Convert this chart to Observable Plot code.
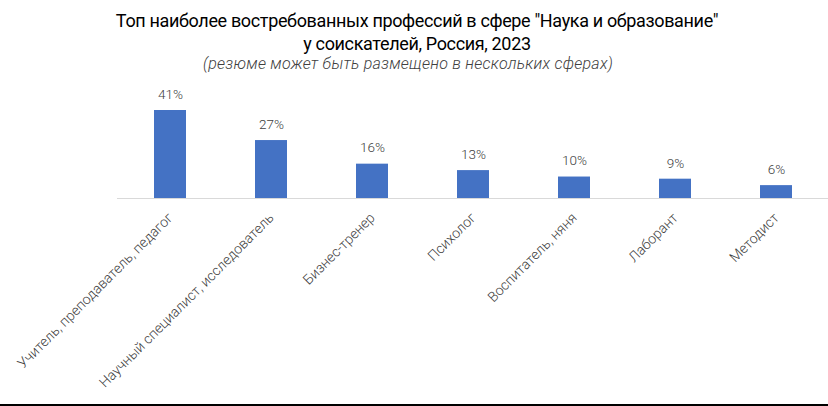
<!DOCTYPE html>
<html>
<head>
<meta charset="utf-8">
<script src="https://cdn.jsdelivr.net/npm/d3@7"></script>
<script src="https://cdn.jsdelivr.net/npm/@observablehq/plot@0.6"></script>
<style>
  html, body { margin: 0; padding: 0; background: #fff; }
  #wrap { width: 828px; height: 404px; border-bottom: 2px solid #000; position: relative; overflow: hidden; }
  #title { font-family: Roboto, "Noto Sans", sans-serif; text-align: center; color: #000; width: 834px; height: 72px; box-sizing: border-box; padding-top: 9px; }
  #title .t { font-size: 18px; font-weight: 400; line-height: 23px; letter-spacing: -0.35px; }
  #title .s { font-size: 16px; font-style: italic; font-weight: 300; color: #404040; line-height: 18px; letter-spacing: 0.25px; position: relative; left: -9px; }
  #chart svg { display: block; }
</style>
</head>
<body>
<div id="wrap">
  <div id="title">
    <div class="t">Топ наиболее востребованных профессий в сфере "Наука и образование"</div>
    <div class="t">у соискателей, Россия, 2023</div>
    <div class="s">(резюме может быть размещено в нескольких сферах)</div>
  </div>
  <div id="chart"></div>
</div>
<script>
const categories = [
  "Учитель, преподаватель, педагог",
  "Научный специалист, исследователь",
  "Бизнес-тренер",
  "Психолог",
  "Воспитатель, няня",
  "Лаборант",
  "Методист"
];
const values = [41, 27, 16, 13, 10, 9, 6];
const valueLabels = ["41%", "27%", "16%", "13%", "10%", "9%", "6%"];

const data = categories.map((c, i) => ({cat: c, v: values[i], label: valueLabels[i]}));

const chart = Plot.plot({
  width: 828,
  height: 332,
  marginLeft: 117,
  marginRight: 0,
  marginTop: 38,
  marginBottom: 206,
  style: {fontFamily: "Roboto, 'Noto Sans', sans-serif", background: "#fff"},
  x: {domain: categories, paddingInner: 0.685, paddingOuter: 0.3425, axis: null},
  y: {domain: [0, 41], axis: null},
  marks: [
    Plot.barY(data, {x: "cat", y: "v", fill: "#4472C4"}),
    Plot.ruleY([0], {stroke: "#d9d9d9", strokeWidth: 1}),
    Plot.text(data, {x: "cat", y: "v", text: "label", dy: -16, fontSize: 13.5, fontWeight: 300, fill: "#404040"}),
    Plot.text(data, {x: "cat", y: 0, text: "cat", rotate: -45, textAnchor: "end", dx: 0, dy: 17, fontSize: 14, fontWeight: 300, fill: "#404040"})
  ]
});
document.getElementById("chart").appendChild(chart);
</script>
</body>
</html>
